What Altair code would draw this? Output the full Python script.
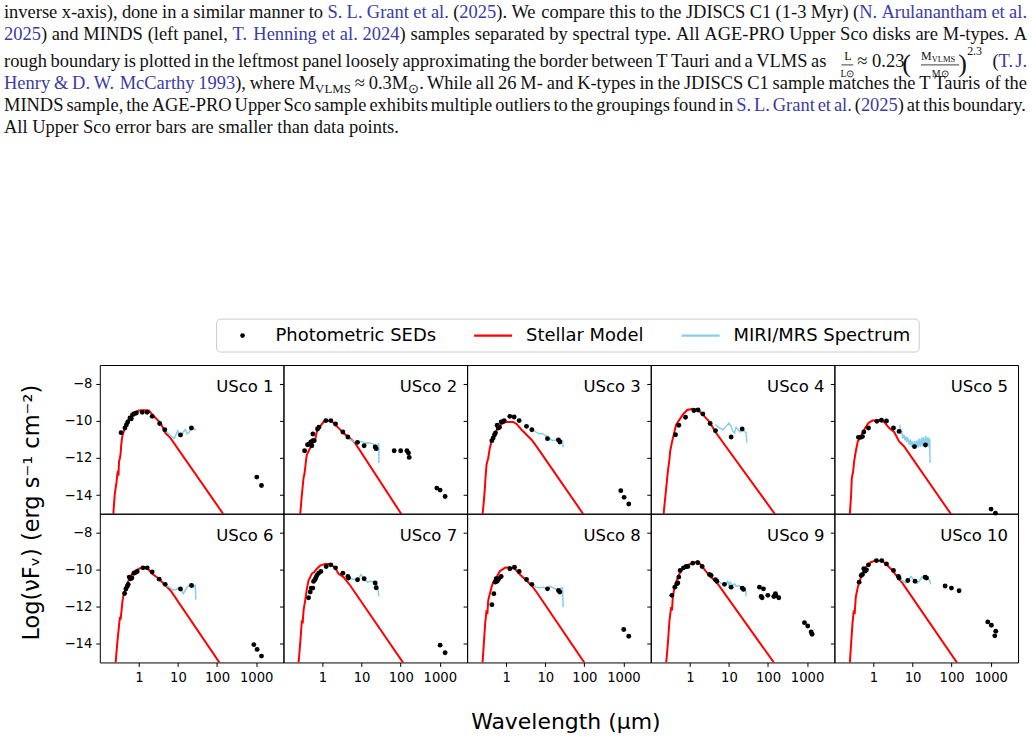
import altair as alt
import pandas as pd

# ---------------------------------------------------------------- panel data
NAMES = ["USco 1", "USco 2", "USco 3", "USco 4", "USco 5",
         "USco 6", "USco 7", "USco 8", "USco 9", "USco 10"]

# photometric SED points: wavelength (um) and log(nu F_nu)
usco1_sed_wl = [0.35, 0.44, 0.48, 0.52, 0.59, 0.64, 0.69, 0.76, 0.86, 1.22, 1.63, 2.19, 3.4, 4.6, 11.6, 22.1, 1040, 1370]
usco1_sed_f = [-10.64, -10.39, -10.21, -10.06, -9.85, -9.89, -9.67, -9.62, -9.58, -9.54, -9.54, -9.76, -10.15, -10.48, -10.76, -10.39, -13.03, -13.48]
usco2_sed_wl = [0.347, 0.413, 0.456, 0.503, 0.533, 0.566, 0.612, 0.566, 0.745, 0.805, 1.22, 1.63, 2.15, 3.31, 4.45, 7.85, 11.6, 22.2, 23.6, 68, 100, 144, 158, 165, 840, 1020, 1370]
usco2_sed_f = [-11.61, -11.29, -11.25, -11.14, -11.34, -11.07, -11.07, -10.71, -10.44, -10.35, -9.99, -9.99, -10.17, -10.60, -10.87, -11.16, -11.34, -11.41, -11.50, -11.61, -11.61, -11.61, -11.73, -11.97, -13.62, -13.73, -14.07]
usco3_sed_wl = [0.430, 0.465, 0.503, 0.533, 0.589, 0.624, 0.675, 0.745, 0.805, 0.889, 1.24, 1.60, 2.15, 3.31, 4.53, 11.4, 21.8, 23.6, 857, 1040, 1370]
usco3_sed_f = [-11.07, -10.93, -10.75, -10.66, -10.24, -10.39, -10.35, -10.06, -10.06, -9.99, -9.76, -9.80, -9.99, -10.30, -10.48, -10.96, -11.03, -11.14, -13.76, -14.12, -14.48]
usco4_sed_wl = [0.430, 0.523, 0.775, 1.27, 1.63, 2.15, 3.31, 4.53, 11.4, 21.8]
usco4_sed_f = [-10.75, -10.24, -9.81, -9.45, -9.42, -9.63, -10.15, -10.53, -10.87, -10.44]
usco5_sed_wl = [0.413, 0.474, 0.523, 0.566, 0.745, 1.22, 1.60, 2.15, 3.25, 4.53, 11.2, 21.4, 1020, 1320]
usco5_sed_f = [-10.89, -10.89, -10.85, -10.60, -10.39, -10.03, -9.97, -10.01, -10.39, -10.57, -11.39, -11.30, -14.75, -14.97]
usco6_sed_wl = [0.430, 0.465, 0.503, 0.533, 0.566, 0.612, 0.662, 0.745, 0.822, 0.906, 1.27, 1.63, 2.19, 3.31, 4.71, 11.6, 22.2, 873, 1060, 1370]
usco6_sed_f = [-11.29, -11.05, -10.91, -10.80, -10.41, -10.50, -10.46, -10.20, -10.16, -10.11, -9.91, -9.91, -10.13, -10.52, -10.80, -11.05, -10.86, -14.04, -14.30, -14.66]
usco7_sed_wl = [0.438, 0.484, 0.513, 0.566, 0.589, 0.637, 0.675, 0.716, 0.791, 0.906, 1.24, 1.63, 2.15, 3.31, 4.45, 4.62, 7.85, 11.6, 22.2, 23.6, 1020, 1370]
usco7_sed_f = [-11.52, -11.21, -11.00, -11.00, -10.64, -10.55, -10.46, -10.32, -10.20, -10.11, -9.84, -9.75, -9.91, -10.20, -10.38, -10.46, -10.55, -10.50, -10.73, -10.98, -14.07, -14.48]
usco8_sed_wl = [0.430, 0.484, 0.523, 0.555, 0.589, 0.649, 0.745, 1.24, 1.63, 2.15, 3.31, 4.53, 11.4, 21.8, 23.6, 1020, 1370]
usco8_sed_f = [-11.89, -11.30, -10.68, -10.50, -10.63, -10.50, -10.38, -9.96, -9.88, -10.11, -10.54, -10.80, -11.04, -11.13, -11.21, -13.23, -13.59]
usco9_sed_wl = [0.347, 0.413, 0.465, 0.493, 0.523, 0.566, 0.689, 0.805, 0.889, 1.19, 1.60, 2.07, 3.18, 3.51, 4.53, 4.91, 7.70, 11.4, 21.8, 23.6, 60.5, 76.6, 66.7, 70.8, 98.9, 141, 155, 161, 189, 857, 1040, 1270, 1345]
usco9_sed_f = [-11.39, -10.95, -10.77, -10.73, -10.41, -10.05, -9.91, -9.84, -9.84, -9.66, -9.64, -9.84, -10.27, -10.32, -10.55, -10.63, -10.80, -10.95, -11.00, -11.07, -10.95, -11.04, -11.45, -11.52, -11.39, -11.45, -11.30, -11.41, -11.52, -12.86, -13.04, -13.36, -13.48]
usco10_sed_wl = [0.430, 0.484, 0.523, 0.566, 0.612, 0.662, 0.745, 1.19, 1.63, 2.15, 3.25, 4.36, 4.53, 7.55, 11.6, 20.9, 22.7, 68.1, 98.9, 155, 840, 1040, 1345, 1270]
usco10_sed_f = [-10.68, -10.32, -10.27, -9.96, -10.09, -10.02, -9.75, -9.52, -9.52, -9.70, -10.05, -10.38, -10.46, -10.59, -10.63, -10.41, -10.46, -10.89, -11.00, -11.14, -12.82, -13.00, -13.32, -13.57]

# stellar photosphere models
usco1_mod_wl = [0.21, 0.222, 0.24, 0.255, 0.268, 0.28, 0.29, 0.30, 0.31, 0.327, 0.34, 0.353, 0.375, 0.397, 0.438, 0.503, 0.612, 0.745, 1.0, 1.34, 1.80, 2.42, 3.58, 4.81, 6.45, 179]
usco1_mod_f = [-15.5, -15.0, -14.0, -13.6, -13.3, -12.9, -12.7, -12.95, -12.2, -12.0, -11.8, -11.3, -10.85, -10.66, -10.4, -10.05, -9.76, -9.58, -9.45, -9.44, -9.45, -9.76, -10.12, -10.66, -10.93, -15.3]
usco2_mod_wl = [0.26, 0.268, 0.296, 0.315, 0.327, 0.345, 0.36, 0.38, 0.397, 0.438, 0.484, 0.533, 0.589, 0.649, 0.716, 0.871, 1.06, 1.29, 1.73, 2.33, 3.44, 5.10, 6.84, 127]
usco2_mod_f = [-15.5, -15.06, -13.98, -13.4, -13.08, -12.85, -12.54, -12.1, -11.82, -11.64, -11.46, -11.29, -11.11, -11.02, -10.57, -10.30, -10.06, -9.99, -10.03, -10.30, -10.66, -10.96, -11.20, -15.3]
usco3_mod_wl = [0.24, 0.248, 0.268, 0.285, 0.30, 0.314, 0.347, 0.382, 0.422, 0.465, 0.544, 0.624, 0.760, 1.02, 1.51, 1.84, 2.47, 3.31, 4.45, 5.97, 116]
usco3_mod_f = [-15.5, -15.06, -14.34, -13.62, -12.9, -12.36, -12.0, -11.46, -11.11, -10.93, -10.57, -10.39, -10.17, -10.06, -10.06, -10.17, -10.48, -10.75, -11.02, -11.38, -15.3]
usco4_mod_wl = [0.205, 0.212, 0.239, 0.274, 0.30, 0.314, 0.353, 0.405, 0.447, 0.544, 0.662, 0.855, 1.19, 1.60, 2.15, 3.18, 4.71, 188]
usco4_mod_f = [-15.5, -15.06, -13.98, -12.72, -12.1, -11.64, -11.11, -10.57, -10.21, -9.94, -9.67, -9.42, -9.36, -9.40, -9.67, -10.06, -10.66, -15.3]
usco5_mod_wl = [0.24, 0.248, 0.268, 0.279, 0.302, 0.320, 0.353, 0.397, 0.474, 0.577, 0.745, 0.94, 1.40, 1.87, 2.52, 3.38, 4.53, 6.08, 119]
usco5_mod_f = [-15.5, -15.06, -13.98, -13.08, -12.72, -12.18, -11.64, -11.11, -10.84, -10.48, -10.12, -9.99, -9.97, -10.06, -10.39, -10.60, -11.11, -11.38, -15.3]
usco6_mod_wl = [0.245, 0.253, 0.279, 0.308, 0.327, 0.34, 0.353, 0.382, 0.413, 0.484, 0.589, 0.745, 1.0, 1.34, 1.70, 2.19, 3.25, 4.81, 6.45, 143]
usco6_mod_f = [-15.5, -15.05, -13.98, -13.09, -12.55, -12.7, -12.38, -11.66, -11.30, -10.86, -10.41, -10.14, -9.96, -9.88, -9.96, -10.23, -10.50, -10.86, -11.13, -15.3]
usco7_mod_wl = [0.235, 0.243, 0.268, 0.296, 0.31, 0.327, 0.360, 0.397, 0.438, 0.484, 0.533, 0.612, 0.716, 0.871, 1.17, 1.57, 2.11, 2.57, 3.44, 5.10, 143]
usco7_mod_f = [-15.5, -15.05, -13.98, -12.73, -12.9, -12.20, -11.66, -11.04, -10.59, -10.41, -10.23, -10.14, -9.96, -9.79, -9.70, -9.70, -9.91, -10.23, -10.41, -10.86, -15.3]
usco8_mod_wl = [0.24, 0.248, 0.268, 0.290, 0.314, 0.33, 0.347, 0.382, 0.422, 0.465, 0.566, 0.689, 0.924, 1.24, 1.67, 2.24, 3.31, 4.45, 5.97, 124]
usco8_mod_f = [-15.5, -15.05, -13.98, -12.91, -12.20, -12.4, -11.66, -11.30, -10.95, -10.68, -10.41, -10.09, -9.91, -9.88, -9.96, -10.27, -10.59, -10.86, -11.21, -15.3]
usco9_mod_wl = [0.24, 0.248, 0.274, 0.302, 0.333, 0.35, 0.367, 0.405, 0.465, 0.544, 0.662, 0.889, 1.19, 1.60, 2.15, 2.89, 3.87, 5.20, 178]
usco9_mod_f = [-15.5, -15.05, -13.98, -12.73, -12.02, -12.2, -11.48, -10.95, -10.59, -10.23, -9.96, -9.75, -9.66, -9.55, -9.88, -10.23, -10.50, -10.77, -15.3]
usco10_mod_wl = [0.24, 0.248, 0.268, 0.290, 0.314, 0.33, 0.353, 0.397, 0.447, 0.523, 0.637, 0.855, 1.15, 1.70, 2.28, 3.06, 4.11, 5.52, 170]
usco10_mod_f = [-15.5, -15.05, -13.98, -12.91, -12.20, -12.4, -11.48, -10.95, -10.59, -10.23, -9.88, -9.61, -9.52, -9.55, -9.79, -10.05, -10.41, -10.73, -15.3]

# JWST MIRI/MRS spectra
usco1_miri_wl = [4.8, 5.85, 7.1, 8.2, 9.2, 9.9, 10.8, 12.1, 13.6, 15.3, 17.2, 19.4, 21.8, 25.5, 28.7]
usco1_miri_f = [-10.53, -10.71, -10.89, -10.93, -10.66, -10.53, -10.78, -10.85, -10.60, -10.48, -10.71, -10.60, -10.39, -10.42, -10.50]
usco2_miri_wl = [4.62, 6.21, 8.33, 10.1, 12.3, 15.0, 18.3, 22.2, 25.5, 27.4, 27.6, 27.8]
usco2_miri_f = [-10.96, -11.11, -11.14, -11.11, -11.20, -11.18, -11.23, -11.29, -11.38, -11.20, -12.27, -11.45]
usco3_miri_wl = [4.71, 5.74, 6.98, 8.17, 9.75, 11.2, 13.1, 15.3, 18.6, 21.8, 25.0, 27.6, 28.7]
usco3_miri_f = [-10.48, -10.60, -10.71, -10.67, -10.78, -10.84, -10.96, -11.07, -11.03, -11.00, -11.03, -11.07, -11.43]
usco4_miri_wl = [4.53, 5.52, 6.98, 8.49, 9.94, 11.4, 12.6, 13.9, 15.3, 17.2, 19.4, 21.8, 25.0, 27.6, 28.7]
usco4_miri_f = [-10.21, -10.35, -10.48, -10.30, -10.12, -10.30, -10.57, -10.66, -10.35, -10.48, -10.60, -10.44, -10.57, -10.66, -11.16]
usco5_miri_wl = [4.71, 5.0, 5.3, 5.6, 6.0, 6.4, 6.7, 7.1, 7.5, 8.2, 8.8, 9.4, 9.9, 10.6, 11.3, 12.1, 13.0, 13.9, 14.7, 15.8, 16.8, 17.9, 19.0, 20.5, 21.8, 23.2, 24.8, 26.5, 27.5, 28.1]
usco5_miri_f = [-10.21, -10.70, -10.57, -10.95, -10.75, -11.05, -10.84, -11.15, -10.90, -11.29, -11.00, -11.40, -11.11, -11.50, -11.10, -11.50, -11.05, -11.45, -10.96, -11.40, -10.92, -11.37, -10.88, -11.32, -10.82, -11.30, -10.88, -11.43, -10.95, -12.27]
usco6_miri_wl = [4.91, 5.97, 7.26, 8.84, 10.8, 12.1, 13.6, 15.3, 17.9, 20.9, 24.5, 27.6, 28.7]
usco6_miri_f = [-10.86, -10.95, -11.09, -11.09, -10.98, -11.09, -11.30, -11.13, -10.91, -10.80, -10.95, -10.86, -11.63]
usco7_miri_wl = [4.62, 5.62, 6.84, 8.33, 9.55, 10.8, 12.3, 14.2, 16.6, 19.4, 22.2, 25.5, 27.6]
usco7_miri_f = [-10.41, -10.50, -10.55, -10.50, -10.27, -10.41, -10.59, -10.68, -10.63, -10.64, -10.73, -10.86, -11.45]
usco8_miri_wl = [4.71, 5.74, 7.26, 8.84, 10.8, 13.1, 15.9, 19.4, 23.6, 27.6, 28.7]
usco8_miri_f = [-10.80, -10.95, -10.98, -10.95, -11.04, -10.91, -10.98, -11.09, -11.05, -10.98, -12.02]
usco9_miri_wl = [4.71, 5.74, 6.98, 8.49, 9.37, 9.94, 10.8, 12.1, 13.9, 15.3, 17.9, 20.6, 23.6, 26.5, 27.6]
usco9_miri_f = [-10.59, -10.68, -10.80, -10.77, -10.63, -10.86, -10.68, -10.86, -10.77, -10.91, -10.86, -10.98, -10.95, -11.04, -11.45]
usco10_miri_wl = [4.71, 5.74, 6.71, 7.85, 9.01, 10.3, 11.6, 13.3, 15.3, 17.2, 19.4, 21.8, 24.5, 27.6, 28.7]
usco10_miri_f = [-10.50, -10.63, -10.73, -10.59, -10.38, -10.50, -10.68, -10.73, -10.59, -10.41, -10.50, -10.41, -10.46, -10.59, -10.80]

SED = [(usco1_sed_wl, usco1_sed_f), (usco2_sed_wl, usco2_sed_f), (usco3_sed_wl, usco3_sed_f),
       (usco4_sed_wl, usco4_sed_f), (usco5_sed_wl, usco5_sed_f), (usco6_sed_wl, usco6_sed_f),
       (usco7_sed_wl, usco7_sed_f), (usco8_sed_wl, usco8_sed_f), (usco9_sed_wl, usco9_sed_f),
       (usco10_sed_wl, usco10_sed_f)]
MODEL = [(usco1_mod_wl, usco1_mod_f), (usco2_mod_wl, usco2_mod_f), (usco3_mod_wl, usco3_mod_f),
         (usco4_mod_wl, usco4_mod_f), (usco5_mod_wl, usco5_mod_f), (usco6_mod_wl, usco6_mod_f),
         (usco7_mod_wl, usco7_mod_f), (usco8_mod_wl, usco8_mod_f), (usco9_mod_wl, usco9_mod_f),
         (usco10_mod_wl, usco10_mod_f)]
MIRI = [(usco1_miri_wl, usco1_miri_f), (usco2_miri_wl, usco2_miri_f), (usco3_miri_wl, usco3_miri_f),
        (usco4_miri_wl, usco4_miri_f), (usco5_miri_wl, usco5_miri_f), (usco6_miri_wl, usco6_miri_f),
        (usco7_miri_wl, usco7_miri_f), (usco8_miri_wl, usco8_miri_f), (usco9_miri_wl, usco9_miri_f),
        (usco10_miri_wl, usco10_miri_f)]

X_TICKS = [1, 10, 100, 1000]
Y_TICKS = [-14, -12, -10, -8]
LEGEND_LABELS = ["Photometric SEDs", "Stellar Model", "MIRI/MRS Spectrum"]
X_TITLE = "Wavelength (\u03bcm)"
Y_TITLE = "Log(\u03bdF\u1d65) (erg s\u207b\u00b9 cm\u207b\u00b2)"

# ------------------------------------------------------- caption paragraph
# {...} marks citation links, [...] marks subscripts
CAPTION = [
    "inverse x-axis), done in a similar manner to {S. L. Grant et al.} ({2025}). We compare this to the JDISCS C1 (1-3 Myr) ({N. Arulanantham et al.}",
    "{2025}) and MINDS (left panel, {T. Henning et al. 2024}) samples separated by spectral type. All AGE-PRO Upper Sco disks are M-types. A",
    "rough boundary is plotted in the leftmost panel loosely approximating the border between T Tauri and a VLMS as",
    "{Henry & D. W. McCarthy 1993}), where M[VLMS] \u2248 0.3M[\u2299]. While all 26 M- and K-types in the JDISCS C1 sample matches the T Tauris of the",
    "MINDS sample, the AGE-PRO Upper Sco sample exhibits multiple outliers to the groupings found in {S. L. Grant et al.} ({2025}) at this boundary.",
    "All Upper Sco error bars are smaller than data points.",
]
CAPTION_TAIL = "({T. J.}"          # closes the formula line
BASELINES = [16, 38, 65, 87.5, 109.5, 131.5]

BLACK, BLUE = "#111111", "#3b3ba6"
BODY = 18.5
LEFT, RIGHT = 3, 1028
SERIF = "Liberation Serif"
SANS = "DejaVu Sans"

# Times advance widths (1/1000 em) for printable ASCII
_W = [250, 333, 408, 500, 500, 833, 778, 333, 333, 333, 500, 564, 250, 333, 250, 278,
      500, 500, 500, 500, 500, 500, 500, 500, 500, 500, 278, 278, 564, 564, 564, 444,
      921, 722, 667, 667, 722, 611, 556, 722, 722, 333, 389, 722, 611, 889, 722, 722,
      556, 722, 667, 556, 611, 722, 722, 944, 722, 722, 611, 333, 278, 333, 469, 500,
      333, 444, 500, 444, 500, 444, 333, 500, 500, 278, 278, 500, 278, 778, 500, 500,
      500, 500, 333, 389, 278, 500, 500, 722, 500, 500, 444, 480, 200, 480, 541]
ADV = {chr(32 + i): w for i, w in enumerate(_W)}
ADV["\u2248"] = 549
ADV["\u2299"] = 800


def text_w(s, size):
    return sum(ADV.get(c, 500) for c in s) / 1000.0 * size


def parse(markup):
    words, pieces, buf = [], [], ""
    blue = sub = False
    for ch in markup + " ":
        if ch in "{}[] ":
            if buf:
                pieces.append((buf, blue, sub))
                buf = ""
            if ch == "{":
                blue = True
            elif ch == "}":
                blue = False
            elif ch == "[":
                sub = True
            elif ch == "]":
                sub = False
            elif pieces:
                words.append(pieces)
                pieces = []
        else:
            buf += ch
    return words


def set_line(markup, left, right, base, justify=True):
    words = parse(markup)
    sizes = [[BODY * 0.7 if s else BODY for (_, _, s) in w] for w in words]
    widths = [sum(text_w(t, fs) for (t, _, _), fs in zip(w, ss)) for w, ss in zip(words, sizes)]
    if justify and len(words) > 1:
        gap = (right - left - sum(widths)) / (len(words) - 1)
    else:
        gap = ADV[" "] / 1000.0 * BODY
    rows, x = [], left
    for w, ss, wd in zip(words, sizes, widths):
        px = x
        for (t, blue, sub), fs in zip(w, ss):
            rows.append({"text": t, "x": px, "y": base + (3.5 if sub else 0),
                         "size": fs, "color": BLUE if blue else BLACK})
            px += text_w(t, fs) + (0.8 if sub else 0)
        x += wd + gap
    return rows


caption_rows = []
caption_rows += set_line(CAPTION[0], LEFT, RIGHT, BASELINES[0])
caption_rows += set_line(CAPTION[1], LEFT, RIGHT, BASELINES[1])
caption_rows += set_line(CAPTION[2], LEFT, 827, BASELINES[2])
caption_rows += set_line(CAPTION_TAIL, 993.3, RIGHT, BASELINES[2])
caption_rows += set_line(CAPTION[3], LEFT, RIGHT, BASELINES[3])
caption_rows += set_line(CAPTION[4], LEFT, RIGHT, BASELINES[4])
caption_rows += set_line(CAPTION[5], LEFT, RIGHT, BASELINES[5], justify=False)

# L/L_sun ~ 0.23 (M_VLMS / M_sun)^2.3
caption_rows += [
    {"text": "L", "x": 845, "y": 58.5, "size": 12, "color": BLACK},
    {"text": "L\u2299", "x": 841, "y": 75, "size": 10, "color": BLACK},
    {"text": "\u2248 0.23", "x": 858, "y": BASELINES[2], "size": BODY, "color": BLACK},
    {"text": "(", "x": 903, "y": 70, "size": 26, "color": BLACK},
    {"text": "M", "x": 921.7, "y": 58.5, "size": 12, "color": BLACK},
    {"text": "VLMS", "x": 932.5, "y": 60, "size": 8.5, "color": BLACK},
    {"text": "M\u2299", "x": 932.5, "y": 75, "size": 10, "color": BLACK},
    {"text": ")", "x": 959, "y": 70, "size": 26, "color": BLACK},
    {"text": "2.3", "x": 968, "y": 53, "size": 12, "color": BLACK},
]
FRACTION_BARS = [(842, 854, 63.3), (921.7, 960, 63.3)]

# ------------------------------------------------------------------ panels
def frame(pairs):
    rows = []
    for k, (wl, f) in enumerate(pairs):
        for i, (a, b) in enumerate(zip(wl, f)):
            rows.append({"panel": k, "idx": i, "wl": a, "logf": b})
    return pd.DataFrame(rows)


sed_df, model_df, miri_df = frame(SED), frame(MODEL), frame(MIRI)

PAGE_W, PAGE_H = 1035, 742
OX, OY = 99, 364            # top-left corner of the first panel on the page
PW, PH = 184, 149
x_scale = alt.Scale(type="log", domain=[0.1, 5000], nice=False)
y_scale = alt.Scale(domain=[-15, -7], nice=False, zero=False)


def one(**kw):
    return pd.DataFrame([kw] if kw else [{"a": 0}])


def decorations():
    """Caption, legend, axis titles and the page frame, drawn in panel-1 coordinates."""
    cap = pd.DataFrame(caption_rows)
    cap["x"] = cap["x"] - OX
    cap["y"] = cap["y"] - OY
    bars = pd.DataFrame(FRACTION_BARS, columns=["x", "x2", "y"])
    bars[["x", "x2"]] = bars[["x", "x2"]] - OX
    bars["y"] = bars["y"] - OY

    page = alt.Chart(one()).mark_rect(opacity=0).encode(
        x=alt.value(-OX), x2=alt.value(PAGE_W - OX),
        y=alt.value(-OY), y2=alt.value(PAGE_H - OY))
    text = alt.Chart(cap).mark_text(align="left", baseline="alphabetic", font=SERIF).encode(
        x=alt.X("x:Q", scale=None), y=alt.Y("y:Q", scale=None), text="text:N",
        size=alt.Size("size:Q", scale=None), color=alt.Color("color:N", scale=None))
    rules = alt.Chart(bars).mark_rule(color=BLACK, strokeWidth=0.8).encode(
        x=alt.X("x:Q", scale=None), x2="x2:Q", y=alt.Y("y:Q", scale=None))

    ly = 334.5 - OY
    box = alt.Chart(one()).mark_rect(
        fill="white", stroke="#cccccc", strokeWidth=1, cornerRadius=4
    ).encode(x=alt.value(216 - OX), x2=alt.value(920 - OX),
             y=alt.value(318 - OY), y2=alt.value(351 - OY))
    dot = alt.Chart(one()).mark_circle(color="black", size=22, opacity=1).encode(
        x=alt.value(242 - OX), y=alt.value(ly))
    red = alt.Chart(one()).mark_rule(color="#ff0000", strokeWidth=2.2).encode(
        x=alt.value(474 - OX), x2=alt.value(512 - OX), y=alt.value(ly))
    blue = alt.Chart(one()).mark_rule(color="#87ceeb", strokeWidth=2.2).encode(
        x=alt.value(682 - OX), x2=alt.value(720 - OX), y=alt.value(ly))
    labels = alt.Chart(pd.DataFrame({"label": LEGEND_LABELS,
                                     "x": [275 - OX, 526 - OX, 734 - OX]})).mark_text(
        align="left", baseline="middle", font=SANS, fontSize=18, color="black"
    ).encode(x=alt.X("x:Q", scale=None), y=alt.value(ly), text="label:N")

    ytitle = alt.Chart(one(t=Y_TITLE)).mark_text(
        angle=270, align="center", baseline="middle", font=SANS, fontSize=22.5, color="black"
    ).encode(x=alt.value(31 - OX), y=alt.value(512 - OY), text="t:N")
    xtitle = alt.Chart(one(t=X_TITLE)).mark_text(
        align="center", baseline="middle", font=SANS, fontSize=22, color="black"
    ).encode(x=alt.value(566 - OX), y=alt.value(722 - OY), text="t:N")
    return [page, text, rules, box, dot, red, blue, labels, ytitle, xtitle]


def make_panel(k):
    col, row = k % 5, k // 5
    y_axis = alt.Axis(values=Y_TICKS, format="d", labels=(col == 0), ticks=True,
                      tickSize=4, tickColor="black", tickWidth=1, domain=False,
                      grid=False, labelFontSize=13.2, labelColor="black",
                      labelFont=SANS, labelPadding=4, title=None)
    if row == 1:
        x_axis = alt.Axis(values=X_TICKS, format="d", ticks=True, tickSize=4,
                          tickColor="black", tickWidth=1, domain=False, grid=False,
                          labelFontSize=13.2, labelColor="black", labelFont=SANS,
                          labelPadding=5, title=None)
    else:
        x_axis = None
    x = alt.X("wl:Q", scale=x_scale, axis=x_axis)
    y = alt.Y("logf:Q", scale=y_scale, axis=y_axis)

    model = alt.Chart(model_df[model_df.panel == k]).mark_line(
        color="#ff0000", strokeWidth=2, clip=True
    ).encode(x=x, y=y, order="idx:Q")
    miri = alt.Chart(miri_df[miri_df.panel == k]).mark_line(
        color="#87ceeb", strokeWidth=1.5, clip=True
    ).encode(x=x, y=y, order="idx:Q")
    sed = alt.Chart(sed_df[sed_df.panel == k]).mark_circle(
        color="black", size=24, opacity=1
    ).encode(x=x, y=y)
    label = alt.Chart(one(name=NAMES[k])).mark_text(
        align="right", baseline="alphabetic", font=SANS, fontSize=16.5, color="black"
    ).encode(x=alt.value(PW - 10), y=alt.value(27), text="name:N")

    body = alt.layer(model, miri, sed, label)
    if k == 0:
        body = alt.layer(*decorations(), body).resolve_scale(x="independent", y="independent")
    return body.properties(width=PW, height=PH,
                           view=alt.ViewBackground(stroke="black", strokeWidth=1))


chart = alt.concat(
    *[make_panel(k) for k in range(10)], columns=5, spacing=0, bounds="flush"
).properties(padding=0, background="white").configure_view(stroke="transparent")

chart.save("out.html", embed_options={"renderer": "svg", "actions": False})
